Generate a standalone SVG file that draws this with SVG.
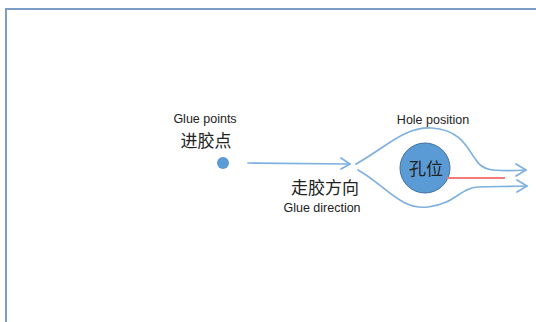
<svg xmlns="http://www.w3.org/2000/svg" width="536" height="322" viewBox="0 0 536 322">
<style>
.frame{fill:none;stroke:#7b9dc7;stroke-width:2}
.flow{fill:none;stroke:#7eb0e0;stroke-width:1.7;stroke-linecap:round;stroke-linejoin:round}
.en{font-family:"Liberation Sans",Arial,sans-serif;font-size:12.5px;fill:#222}
.zh{font-family:"Noto Sans CJK SC","Noto Sans",sans-serif;font-size:17px;fill:#222}
</style>
<rect class="frame" x="6" y="9" width="540" height="330"/>
<g id="glue-point">
<circle cx="223" cy="163" r="6" fill="#5b9bd5"/>
<text class="en" x="205" y="123" text-anchor="middle">Glue points</text>
<text class="zh" x="206" y="147" text-anchor="middle" font-size="16.5">进胶点</text>
</g>
<g id="hole">
<circle cx="425" cy="168" r="25" fill="#5b9bd5" stroke="#41719c" stroke-width="1"/>
<text class="zh" x="426" y="175" text-anchor="middle" font-size="18">孔位</text>
<text class="en" x="433" y="124" text-anchor="middle">Hole position</text>
<line x1="447" y1="178" x2="505" y2="178" stroke="#f07a7a" stroke-width="2.2"/>
</g>
<g id="direction-label">
<text class="zh" x="325" y="194" text-anchor="middle">走胶方向</text>
<text class="en" x="322" y="212" text-anchor="middle">Glue direction</text>
</g>
<g id="connectors">
<path class="flow" d="M248 163 L350 164"/>
<path class="flow" d="M341 158 L350 164 L341 169"/>
<path class="flow" d="M356 164 C385 148 405 126 432 128 C462 130 468 150 476 160 C482 170 490 172 526 170"/>
<path class="flow" d="M516 164 L526 170 L516 176"/>
<path class="flow" d="M358 170 C385 185 400 210 428 207 C455 204 460 188 478 187 C495 186 505 187 527 186"/>
<path class="flow" d="M517 180 L527 186 L517 192"/>
</g>
</svg>
